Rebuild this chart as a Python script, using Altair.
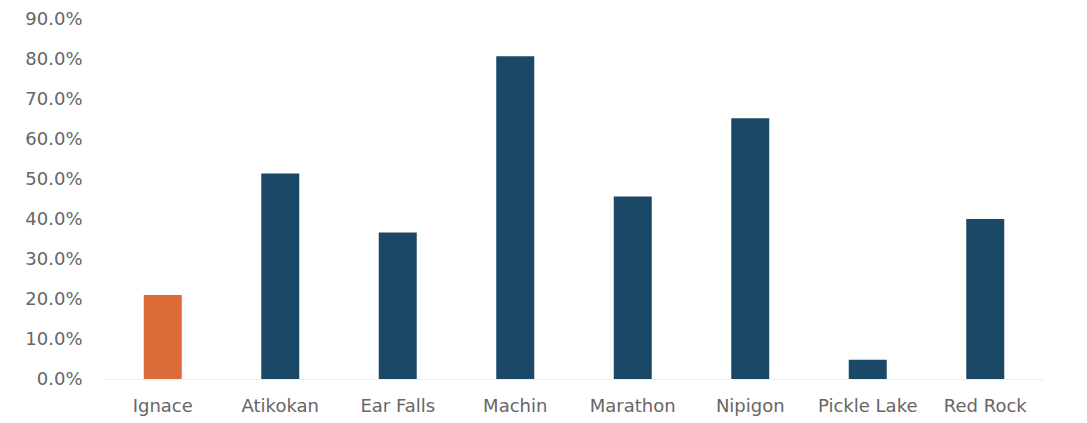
import altair as alt
import pandas as pd

communities = ["Ignace", "Atikokan", "Ear Falls", "Machin", "Marathon", "Nipigon", "Pickle Lake", "Red Rock"]
values = [0.210, 0.514, 0.366, 0.807, 0.456, 0.652, 0.048, 0.400]
colors = ["#DD6B3A", "#1A4866", "#1A4866", "#1A4866", "#1A4866", "#1A4866", "#1A4866", "#1A4866"]

df = pd.DataFrame({"community": communities, "value": values, "color": colors})

chart = alt.Chart(df).mark_bar(size=38).encode(
    x=alt.X("community:N", sort=communities, title=None,
            scale=alt.Scale(paddingInner=0.676, paddingOuter=0.338),
            axis=alt.Axis(labelAngle=0, ticks=False, domain=True, domainColor="#eeeeee",
                          labelPadding=18, labelFontSize=18, labelColor="#666666",
                          labelFont="DejaVu Sans")),
    y=alt.Y("value:Q", title=None,
            scale=alt.Scale(domain=[0, 0.9], nice=False),
            axis=alt.Axis(format=".1%", values=[i / 10 for i in range(10)], grid=False,
                          ticks=False, domain=False, labelPadding=22, labelFontSize=18,
                          labelColor="#666666", labelFont="DejaVu Sans")),
    color=alt.Color("color:N", scale=None, legend=None),
).properties(
    width=940, height=360,
    autosize=alt.AutoSizeParams(type="none"),
    padding={"left": 104, "top": 19, "right": 43, "bottom": 44},
).configure_view(stroke=None)

chart.save("out.html", embed_options={"renderer": "svg", "actions": False})
